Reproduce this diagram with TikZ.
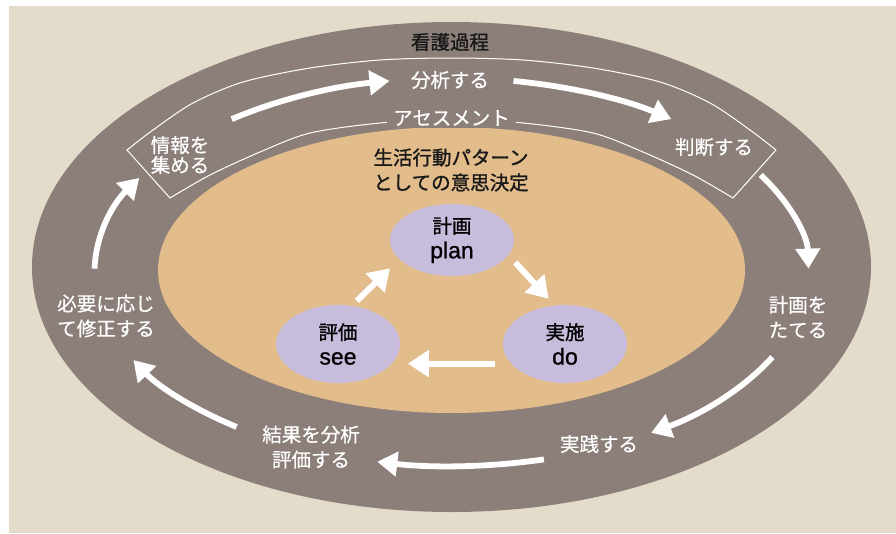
\documentclass[tikz,border=0pt]{standalone}
\usepackage{fontspec}
\setmainfont{Noto Sans CJK JP}[FakeBold=0.5]
\newfontfamily\headfont{Noto Sans CJK JP}[FakeBold=1.2]
\newfontfamily\latinfont{Liberation Sans}[FakeBold=1]
\usetikzlibrary{arrows.meta,shapes.geometric}
\definecolor{paper}{RGB}{227,220,203}
\definecolor{ring}{RGB}{140,127,122}
\definecolor{core}{RGB}{226,188,138}
\definecolor{lilac}{RGB}{199,188,219}
\newcommand\lat[1]{{\latinfont\fontsize{23}{25}\selectfont #1}}
\begin{document}
\begin{tikzpicture}[x=1pt,y=-1pt,
  every node/.style={font=\fontsize{19.5}{25}\selectfont,align=center,inner sep=0pt},
  lbl/.style={text=white},
  head/.style={font=\headfont\fontsize{19.5}{25}\selectfont,text=black!90},
  pdca/.style={ellipse,fill=lilac,minimum width=124pt,minimum height=78pt,font=\headfont\fontsize{19.5}{25}\selectfont},
  ringarrow/.style={white,line width=5.8pt,-{Triangle[length=20pt,width=24pt]}},
  pdcaarrow/.style={white,line width=6pt,-{Triangle[length=21pt,width=26pt]}}]
  \useasboundingbox (0,0) rectangle (896,533);
  \fill[paper] (9,6) rectangle (896,533);
  \fill[ring] (451.5,267) ellipse [x radius=419.5,y radius=245];
  \fill[core] (451.5,270) ellipse [x radius=293.5,y radius=143];
  % assessment band
  \draw[white,line width=1pt]
    plot[smooth] coordinates {(127,150) (153,130) (193,103) (243,82) (310,68) (380,60)
      (451.5,58) (523,60) (593,68) (660,82) (710,103) (750,130) (776,150)}
    -- plot[smooth] coordinates {(733,198) (693,175) (643,152) (593,133) (523,123)
      (451.5,119) (380,123) (310,133) (260,152) (210,175) (170,198)}
    -- cycle;
  \node[head] (nurse) at (450,42) {看護過程};
  \node[lbl] (analyze) at (450,80) {分析する};
  \node[lbl,fill=ring,inner xsep=6pt,inner ysep=2pt] (assess) at (451.5,118) {アセスメント};
  \node[lbl] (judge) at (714,147) {判断する};
  \node[lbl,font=\fontsize{19.5}{20}\selectfont] (collect) at (180,155) {情報を\\集める};
  \node[lbl] (planning) at (798,317) {計画を\\たてる};
  \node[lbl] (practice) at (599,444) {実践する};
  \node[lbl] (evaluate) at (311,447) {結果を分析\\評価する};
  \node[lbl] (revise) at (106,316) {必要に応じ\\て修正する};
  \node[head] (decide) at (451,170) {生活行動パターン\\としての意思決定};
  \node[pdca,minimum height=72pt] (plan) at (452,240) {計画\\\lat{plan}};
  \node[pdca] (do) at (565,344) {実施\\\lat{do}};
  \node[pdca] (see) at (338,344) {評価\\\lat{see}};
  % ring arrows
  \coordinate (ringc) at (451.5,272);
  \draw[ringarrow] (ringc) ++(181:357 and 194) arc[start angle=181,end angle=209,x radius=357,y radius=194];
  \draw[ringarrow] (ringc) ++(232:357 and 194) arc[start angle=232,end angle=260,x radius=357,y radius=194];
  \draw[ringarrow] (ringc) ++(280:357 and 194) arc[start angle=280,end angle=308,x radius=357,y radius=194];
  \draw[ringarrow] (ringc) ++(330:357 and 194) arc[start angle=330,end angle=359,x radius=357,y radius=194];
  \draw[ringarrow] (ringc) ++(26:357 and 194) arc[start angle=26,end angle=56,x radius=357,y radius=194];
  \draw[ringarrow] (ringc) ++(75:357 and 194) arc[start angle=75,end angle=102,x radius=357,y radius=194];
  \draw[ringarrow] (ringc) ++(127:357 and 194) arc[start angle=127,end angle=153,x radius=357,y radius=194];
  % cycle arrows
  \draw[pdcaarrow,shorten <=10pt,shorten >=9pt] (plan.-15) -- (do.105);
  \draw[pdcaarrow,shorten <=16pt,shorten >=16pt] (do.200) -- (see.-20);
  \draw[pdcaarrow,shorten <=7pt,shorten >=13pt] (see.70) -- (plan.200);
\end{tikzpicture}
\end{document}
